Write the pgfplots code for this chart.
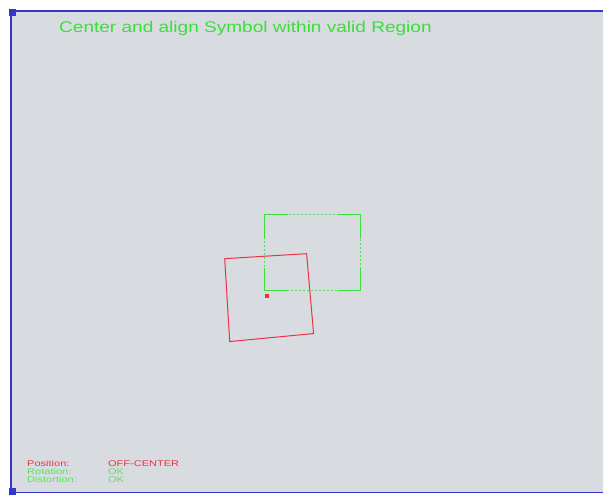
\documentclass[border=0pt]{standalone}
\usepackage{pgfplots}
\pgfplotsset{compat=1.18}
\usepackage{fontspec}
\setmainfont{Liberation Sans}
\definecolor{bg}{HTML}{D8DBDF}
\definecolor{bluebord}{HTML}{3535C8}
\definecolor{grn}{HTML}{3ADF3A}
\definecolor{grnt}{HTML}{55E855}
\definecolor{rd}{HTML}{EC3346}
\begin{document}
\begin{tikzpicture}
\begin{axis}[scale only axis, width=604pt, height=496pt,
  xmin=0, xmax=604, ymin=0, ymax=496, y dir=reverse,
  hide axis, clip=false]
% page and panel
\addplot[fill=white, draw=none] coordinates {(0,0) (604,0) (604,496) (0,496) (0,0)};
\addplot[fill=bg, draw=none] coordinates {(11,11) (604,11) (604,493) (11,493) (11,11)};
% border
\addplot[bluebord, line width=1.6pt] coordinates {(604,11) (11,11) (11,493) (604,493)};
\addplot[bluebord, only marks, mark=square*, mark size=3pt] coordinates {(12,12) (12,492)};
% target region (green dashed with solid corners)
\addplot[grn!80!bg, line width=0.7pt, dash pattern=on 2pt off 2pt] coordinates {(265,215) (361,215) (361,291) (265,291) (265,215)};
\addplot[grn, line width=1.4pt] coordinates {(265,238) (265,215) (288,215)};
\addplot[grn, line width=1.4pt] coordinates {(338,215) (361,215) (361,238)};
\addplot[grn, line width=1.4pt] coordinates {(361,268) (361,291) (338,291)};
\addplot[grn, line width=1.4pt] coordinates {(288,291) (265,291) (265,268)};
% symbol (red rotated square)
\addplot[rd, line width=1pt] coordinates {(225,259) (307,254) (314,334) (230,342) (225,259)};
\addplot[rd, only marks, mark=square*, mark size=1.8pt] coordinates {(267,296)};
% texts
\node[anchor=base west, text=grn, font=\fontsize{15.5}{16}\selectfont, xscale=1.23, inner sep=0pt] at (axis cs:59,33) {Center and align Symbol within valid Region};
\node[anchor=base west, text=rd, font=\fontsize{8.3}{8}\selectfont, xscale=1.33, inner sep=0pt] at (axis cs:27,467.5) {Position:};
\node[anchor=base west, text=grnt, font=\fontsize{8.3}{8}\selectfont, xscale=1.33, inner sep=0pt] at (axis cs:27,475.5) {Rotation:};
\node[anchor=base west, text=grnt, font=\fontsize{8.3}{8}\selectfont, xscale=1.33, inner sep=0pt] at (axis cs:27,483.5) {Distortion:};
\node[anchor=base west, text=rd, font=\fontsize{8.3}{8}\selectfont, xscale=1.33, inner sep=0pt] at (axis cs:108,467.5) {OFF-CENTER};
\node[anchor=base west, text=grnt, font=\fontsize{8.3}{8}\selectfont, xscale=1.33, inner sep=0pt] at (axis cs:108,475.5) {OK};
\node[anchor=base west, text=grnt, font=\fontsize{8.3}{8}\selectfont, xscale=1.33, inner sep=0pt] at (axis cs:108,483.5) {OK};
\end{axis}
\end{tikzpicture}
\end{document}
